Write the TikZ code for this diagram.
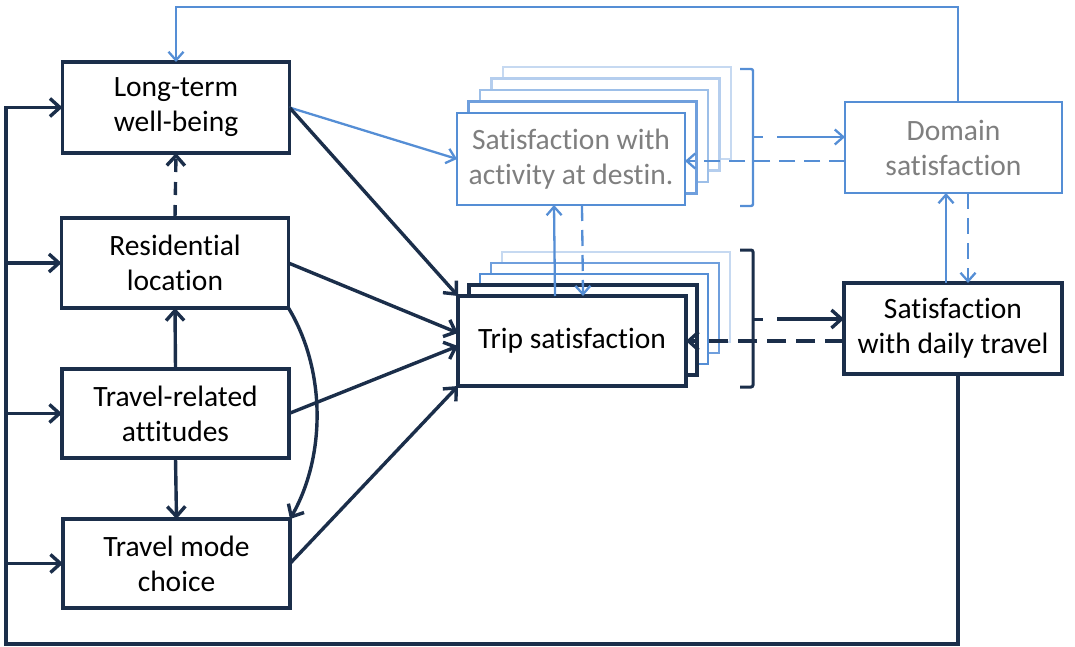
\documentclass[tikz,border=0pt]{standalone}
\usepackage{fontspec}
\setmainfont[Ligatures=NoCommon]{Carlito}
\usetikzlibrary{arrows.meta,calc}
\definecolor{navy}{HTML}{1B2E4A}
\definecolor{mblue}{HTML}{558ED5}
\definecolor{blueA}{HTML}{6F9FDD}
\definecolor{blueB}{HTML}{9DBFE8}
\definecolor{blueC}{HTML}{B5CEEE}
\definecolor{blueD}{HTML}{C6D9F1}
\definecolor{graytext}{HTML}{7F7F7F}
\begin{document}
\begin{tikzpicture}[x=1pt,y=-1pt,
  txt/.style={font=\fontsize{29.5}{35}\selectfont},
  box/.style={draw=navy,line width=3.6pt,fill=white,inner sep=0pt,outer sep=0pt,align=center,txt},
  lbox/.style={draw=mblue,line width=2.4pt,fill=white,inner sep=0pt,outer sep=0pt,align=center,txt,text=graytext},
  layer/.style={fill=white,inner sep=0pt,outer sep=0pt},
  darrow/.style={draw=navy,line width=3.4pt,-{Straight Barb[length=10pt,width=18pt]}},
  barrow/.style={draw=mblue,line width=2.3pt,-{Straight Barb[length=8.5pt,width=15pt]}},
  ddash/.style={dash pattern=on 19pt off 10pt},
  bdash/.style={dash pattern=on 16pt off 9pt}]
\useasboundingbox (0,0) rectangle (1075,647);

% left column
\node[box,minimum width=227pt,minimum height=91pt] (lt) at (176,107.5) {Long-term\\well-being};
\node[box,minimum width=227pt,minimum height=90pt] (res) at (175,263) {Residential\\location};
\node[box,minimum width=227pt,minimum height=89pt] (att) at (175.5,413.5) {Travel-related\\attitudes};
\node[box,minimum width=227pt,minimum height=89pt] (mode) at (176.5,563.5) {Travel mode\\choice};

% activity stack
\node[layer,draw=blueD,line width=2.3pt,minimum width=228pt,minimum height=92pt] (act4) at (617,113) {};
\node[layer,draw=blueC,line width=2.3pt,minimum width=228pt,minimum height=92pt] (act3) at (605.5,124.5) {};
\node[layer,draw=blueB,line width=2.3pt,minimum width=228pt,minimum height=92pt] (act2) at (594,136) {};
\node[layer,draw=blueA,line width=2.3pt,minimum width=228pt,minimum height=92pt] (act1) at (582.5,147.5) {};
\node[lbox,minimum width=228pt,minimum height=92pt] (act) at (571,159) {Satisfaction with\\activity at destin.};

% trip stack
\node[layer,draw=blueD,line width=2.8pt,minimum width=228pt,minimum height=90pt] (trip4) at (616,297) {};
\node[layer,draw=blueA,line width=2.8pt,minimum width=228pt,minimum height=90pt] (trip3) at (605,308) {};
\node[layer,draw=mblue,line width=2.8pt,minimum width=228pt,minimum height=90pt] (trip2) at (594,319) {};
\node[layer,draw=navy,line width=3.4pt,minimum width=228pt,minimum height=90pt] (trip1) at (583,330) {};
\node[box,minimum width=228pt,minimum height=90pt] (trip) at (572,341) {Trip satisfaction};

% right boxes
\node[lbox,minimum width=217pt,minimum height=91pt] (dom) at (953.5,147.5) {Domain\\satisfaction};
\node[box,minimum width=218pt,minimum height=91pt] (daily) at (953,328.5) {Satisfaction\\with daily travel};

% brackets
\draw[mblue,line width=2.4pt,rounded corners=2pt] (740,69) -- (753,69) -- (753,206) -- (740,206);
\draw[mblue,line width=2.4pt] (753,137) -- (763,137);
\draw[navy,line width=3pt,rounded corners=2pt] (740,250) -- (753,250) -- (753,387) -- (740,387);
\draw[navy,line width=3pt] (753,319) -- (763,319);
\coordinate (bt) at (777,137);
\coordinate (bb) at (777,319);
\coordinate (ya) at (0,161);
\coordinate (yt) at (0,341);

\draw[barrow] (bt) -- (bt -| dom.west);
\draw[barrow,bdash] (dom.west |- ya) -- (act.east |- ya);
\draw[darrow] (bb) -- (bb -| daily.west);
\draw[darrow,ddash] (daily.west |- yt) -- (trip.east |- yt);

% trip <-> activity
\draw[barrow] ($(trip.north)+(-17,0)$) -- ($(act.south)+(-17,0)$);
\draw[barrow,bdash] ($(act.south)+(11,0)$) -- ($(trip.north)+(11,0)$);

% daily <-> domain
\draw[barrow] ($(daily.north)+(-7,0)$) -- ($(dom.south)+(-7.5,0)$);
\draw[barrow,bdash] ($(dom.south)+(14.5,0)$) -- ($(daily.north)+(15,0)$);

% top feedback
\coordinate (topy) at (0,7);
\draw[barrow] ($(dom.north)+(4.5,0)$) -- ($(dom.north |- topy)+(4.5,0)$) -- (lt.north |- topy) -- (lt.north);

% bottom feedback loop
\coordinate (boty) at (6,644);
\draw[darrow] ($(daily.south)+(5,0)$) -- ($(daily.south |- boty)+(5,0)$) -- (boty) -- (boty |- lt.west) -- (lt.west);
\draw[darrow] (boty |- res.west) -- (res.west);
\draw[darrow] (boty |- att.west) -- (att.west);
\draw[darrow] (boty |- mode.west) -- (mode.west);

% left column internal
\draw[darrow] (att.north) -- (res.south);
\draw[darrow] (att.south) -- (mode.north);
\draw[darrow,dash pattern=on 13pt off 10pt] (res.north) -- (lt.south);
\draw[darrow] (res.south east) .. controls (326,370) and (326,456) .. (mode.north east);

% to trip / activity
\draw[barrow] (lt.east) -- (act.west);
\draw[darrow] (lt.east) -- (trip.north west);
\draw[darrow] (res.east) -- ($(trip.west)+(0,-8)$);
\draw[darrow] (att.east) -- ($(trip.west)+(0,5)$);
\draw[darrow] (mode.east) -- (trip.south west);
\end{tikzpicture}
\end{document}
